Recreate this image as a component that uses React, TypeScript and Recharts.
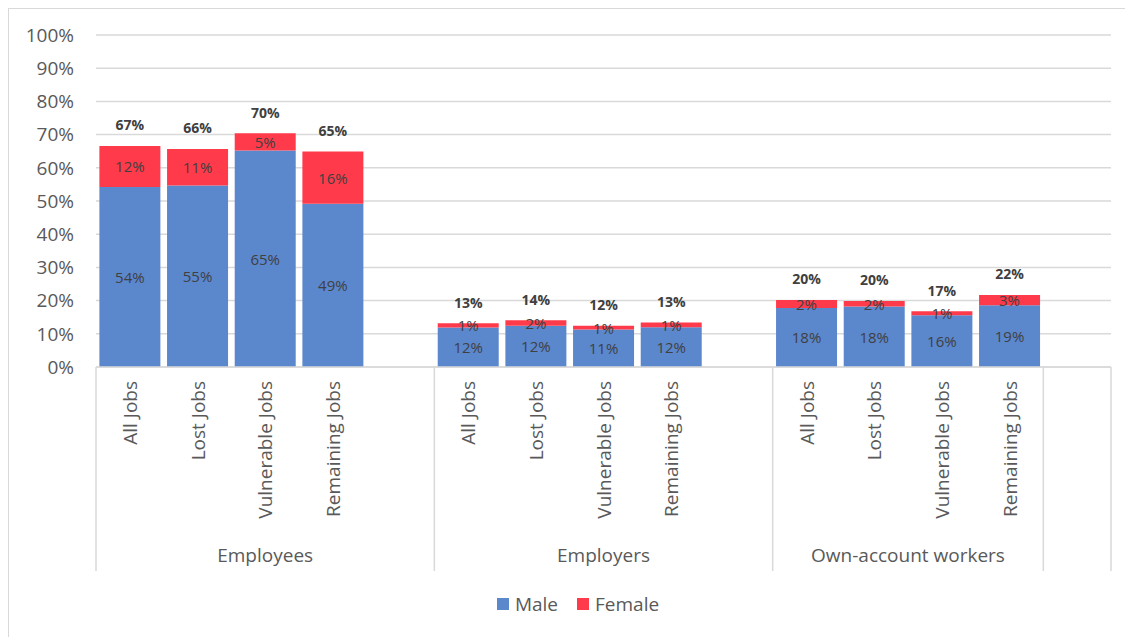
import React from "react";
import { BarChart, Bar, XAxis, YAxis, CartesianGrid, Legend, LabelList } from "recharts";

const groups = ["Employees", "Employers", "Own-account workers"];
const jobs = ["All Jobs", "Lost Jobs", "Vulnerable Jobs", "Remaining Jobs"];
// share of jobs (%) per group, in job order
const maleValues = [
  [54.2, 54.7, 65.2, 49.2],
  [11.9, 12.4, 11.3, 12.0],
  [17.8, 18.2, 15.6, 18.6],
];
const femaleValues = [
  [12.4, 11.0, 5.2, 15.7],
  [1.3, 1.7, 1.1, 1.4],
  [2.4, 1.7, 1.2, 3.1],
];
const yTicks = [0, 10, 20, 30, 40, 50, 60, 70, 80, 90, 100];

const MALE = "#5B87CD";
const FEMALE = "#FF3B4B";
const GRID = "#d9d9d9";
const TEXT = "#595959";
const LABEL = "#404040";

type Row = {
  id: string;
  job: string;
  group: string | null;
  male?: number;
  female?: number;
  total?: number;
};

// every group gets one empty slot after it, like the spreadsheet source
const rows: Row[] = [];
groups.forEach((g, gi) => {
  jobs.forEach((job, ji) => {
    const m = maleValues[gi][ji];
    const f = femaleValues[gi][ji];
    rows.push({ id: `${g}|${job}`, job, group: g, male: m, female: f, total: m + f });
  });
  rows.push({ id: `${g}|gap`, job: "", group: gi < groups.length - 1 ? g : null });
});

const W = 1124;
const H = 628;
const margin = { top: 26, right: 22, bottom: 21, left: 7 };
const Y_W = 80;
const BAND = (W - margin.left - margin.right - Y_W) / rows.length;
const SEP_LEN = 204;

const pct = (v: any) => (v == null ? "" : `${Math.round(v)}%`);

const JobTick = (props: any) => {
  const { x, y, payload } = props;
  const idx = rows.findIndex((r) => r.id === payload.value);
  const row = rows[idx];
  if (!row) return null;
  const left = x - BAND / 2;
  const isGroupStart = row.group !== null && (idx === 0 || rows[idx - 1].group !== row.group);
  const isLast = idx === rows.length - 1;
  const span = row.group !== null ? rows.filter((r) => r.group === row.group).length : 0;
  return (
    <g>
      {row.job && (
        <text
          transform={`translate(${x},${y + 14}) rotate(-90)`}
          textAnchor="end"
          dominantBaseline="central"
          fontSize={19}
          fill={TEXT}
        >
          {row.job}
        </text>
      )}
      {(isGroupStart || isLast) && (
        <line x1={left} x2={left} y1={y} y2={y + SEP_LEN} stroke={GRID} strokeWidth={1.5} />
      )}
      {isLast && (
        <line x1={left + BAND} x2={left + BAND} y1={y} y2={y + SEP_LEN} stroke={GRID} strokeWidth={1.5} />
      )}
      {isGroupStart && (
        <text x={left + (span * BAND) / 2} y={y + 188} textAnchor="middle" dominantBaseline="central" fontSize={19} fill={TEXT}>
          {row.group}
        </text>
      )}
    </g>
  );
};

const centerLabel = (props: any) => {
  const { x, y, width, height, value } = props;
  if (value == null) return null;
  return (
    <text x={x + width / 2} y={y + height / 2} textAnchor="middle" dominantBaseline="central" fontSize={15} fill={LABEL}>
      {pct(value)}
    </text>
  );
};

const totalLabel = (props: any) => {
  const { x, y, width, value } = props;
  if (value == null) return null;
  return (
    <text x={x + width / 2} y={y - 21} textAnchor="middle" dominantBaseline="central" fontSize={14} fontWeight={700} fill={LABEL}>
      {pct(value)}
    </text>
  );
};

const LegendBox = () => (
  <div style={{ display: "flex", justifyContent: "center", alignItems: "center", height: 24, fontSize: 19, color: TEXT }}>
    <span style={{ width: 12, height: 12, background: MALE, marginRight: 6 }} />
    <span style={{ marginRight: 19 }}>Male</span>
    <span style={{ width: 12, height: 12, background: FEMALE, marginRight: 6 }} />
    <span>Female</span>
  </div>
);

export default function App() {
  return (
    <div
      style={{
        width: W,
        height: H,
        borderTop: `1px solid ${GRID}`,
        borderLeft: `1px solid ${GRID}`,
        overflow: "hidden",
        fontFamily: "'Open Sans', sans-serif",
        background: "#fff",
      }}
    >
      <BarChart width={W} height={H} data={rows} margin={margin} barCategoryGap="5%">
        <CartesianGrid vertical={false} stroke={GRID} strokeWidth={1.5} />
        <XAxis
          dataKey="id"
          interval={0}
          height={225}
          tickSize={0}
          tickMargin={0}
          tickLine={false}
          axisLine={{ stroke: GRID, strokeWidth: 1.5 }}
          tick={<JobTick />}
        />
        <YAxis
          width={Y_W}
          domain={[0, 100]}
          ticks={yTicks}
          tickFormatter={(v) => `${v}%`}
          axisLine={false}
          tickLine={false}
          tickSize={6}
          tickMargin={16}
          tick={{ fontSize: 19, fill: TEXT }}
        />
        <Legend
          verticalAlign="bottom"
          content={<LegendBox />}
          wrapperStyle={{ left: 0, width: 1138 }}
        />
        <Bar dataKey="male" name="Male" stackId="a" fill={MALE} isAnimationActive={false}>
          <LabelList dataKey="male" content={centerLabel} />
        </Bar>
        <Bar dataKey="female" name="Female" stackId="a" fill={FEMALE} isAnimationActive={false}>
          <LabelList dataKey="female" content={centerLabel} />
          <LabelList dataKey="total" content={totalLabel} />
        </Bar>
      </BarChart>
    </div>
  );
}
